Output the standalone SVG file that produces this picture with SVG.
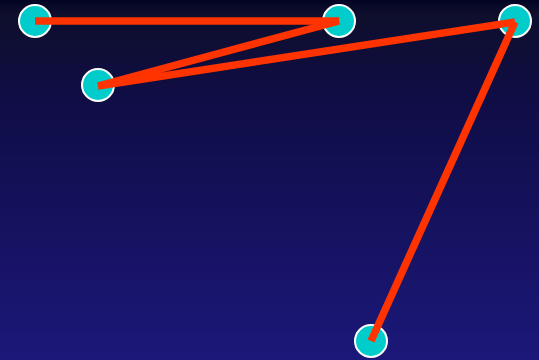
<svg xmlns="http://www.w3.org/2000/svg" width="539" height="360" viewBox="0 0 539 360">
<defs>
<linearGradient id="bg" x1="0" y1="0" x2="0" y2="1">
<stop offset="0" stop-color="#020224"/>
<stop offset="0.035" stop-color="#0e0e2c"/>
<stop offset="0.3" stop-color="#100d48"/>
<stop offset="1" stop-color="#1b187a"/>
</linearGradient>
<style>
.node{fill:#00cccc;stroke:#ffffff;stroke-width:2}
.edge{stroke:#ff3300;stroke-width:7.5;fill:none;stroke-linecap:butt}
</style>
</defs>
<rect width="539" height="360" fill="url(#bg)"/>
<g id="n1"><circle class="node" cx="35" cy="21" r="16"/></g>
<g id="n2"><circle class="node" cx="339" cy="21" r="16"/></g>
<g id="n3"><circle class="node" cx="515" cy="21" r="16"/></g>
<g id="n4"><circle class="node" cx="98" cy="85" r="16"/></g>
<g id="n5"><circle class="node" cx="371" cy="341" r="16"/></g>
<g id="edges">
<line class="edge" x1="35" y1="21" x2="339" y2="21"/>
<line class="edge" x1="339" y1="21" x2="98" y2="86"/>
<line class="edge" x1="98" y1="86" x2="515" y2="22"/>
<line class="edge" x1="515" y1="22" x2="371" y2="341"/>
</g>
</svg>
